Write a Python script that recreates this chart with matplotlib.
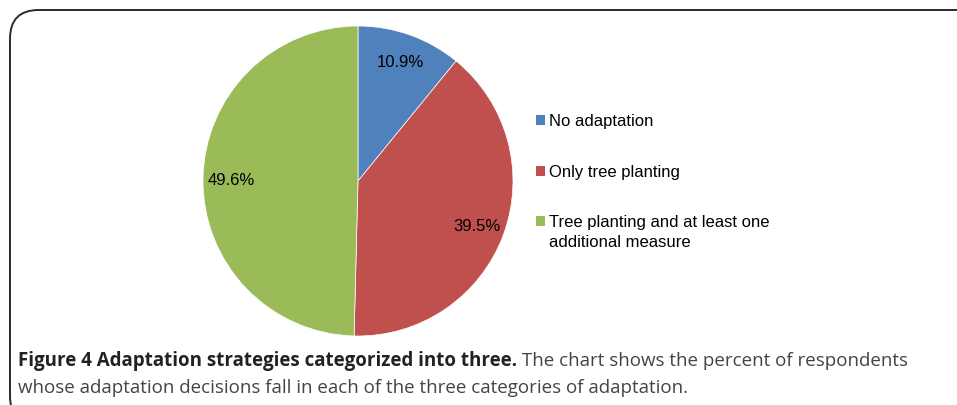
import matplotlib
matplotlib.use("Agg")
import matplotlib.pyplot as plt
from matplotlib.patches import FancyBboxPatch, Rectangle

# Data
labels = ["No adaptation", "Only tree planting",
          "Tree planting and at least one\nadditional measure"]
shares = [10.9, 39.5, 49.6]
colors = ["#4F81BD", "#C0504D", "#9BBB59"]

caption_bold = "Figure 4 Adaptation strategies categorized into three."
caption_rest = " The chart shows the percent of respondents"
caption_line2 = "whose adaptation decisions fall in each of the three categories of adaptation."

W, H = 957, 406
fig = plt.figure(figsize=(W / 100, H / 100), dpi=100)

# rounded frame (runs off the right and bottom edges)
frame = FancyBboxPatch((10 / W, -20 / H), (W + 30) / W, (H + 20 - 11) / H,
                       boxstyle="round,pad=0,rounding_size=0.03",
                       transform=fig.transFigure, facecolor="none",
                       edgecolor="#2b2b2b", linewidth=1.4,
                       mutation_aspect=W / H, zorder=0)
fig.patches.append(frame)

# pie
cx, cy, r = 358, 182, 155
ax = fig.add_axes([(cx - r) / W, (H - cy - r) / H, 2 * r / W, 2 * r / H])
wedges, texts, autotexts = ax.pie(
    shares, colors=colors, startangle=90, counterclock=False,
    autopct="%.1f%%", pctdistance=0.82,
    wedgeprops=dict(edgecolor="white", linewidth=0.5),
    textprops=dict(family="Liberation Sans", fontsize=12, color="black"))
ax.set_xlim(-1, 1)
ax.set_ylim(-1, 1)
ax.set_aspect("equal")
ax.axis("off")

# legend (marker centred on first text line)
rows_y = [121, 172, 222]
for lab, col, yy in zip(labels, colors, rows_y):
    fig.patches.append(Rectangle((536 / W, (H - yy - 5) / H), 9 / W, 10 / H,
                                 transform=fig.transFigure, facecolor=col,
                                 edgecolor="none"))
    fig.text(549 / W, (H - yy + 7) / H, lab, family="Liberation Sans",
             fontsize=12, va="top", ha="left", linespacing=1.45)

# caption
fig.canvas.draw()
renderer = fig.canvas.get_renderer()
t1 = fig.text(18 / W, (H - 366) / H, caption_bold, family="Open Sans",
              fontweight="bold", fontsize=13.5, color="#222222", va="baseline")
bb = t1.get_window_extent(renderer)
fig.text(bb.x1 / W, (H - 366) / H, caption_rest, family="Open Sans",
         fontsize=13.5, color="#444444", va="baseline")
fig.text(18 / W, (H - 393) / H, caption_line2, family="Open Sans",
         fontsize=13.5, color="#444444", va="baseline")

fig.savefig("out.png", dpi=100)
